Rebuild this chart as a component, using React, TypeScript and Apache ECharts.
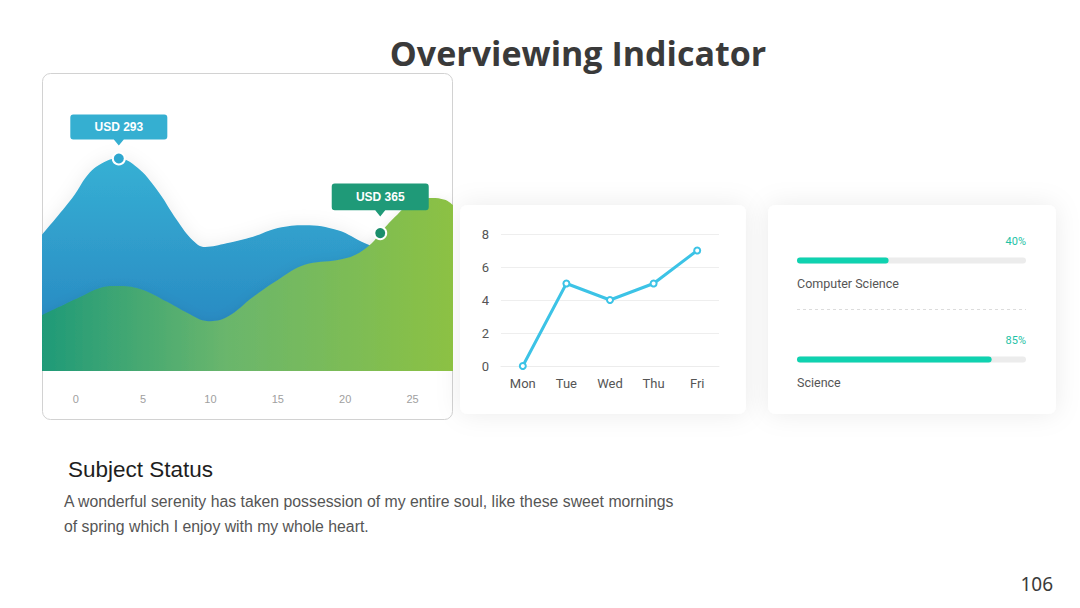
import React, { useEffect, useRef } from "react";
import * as echarts from "echarts";

// Wave chart (left card): x positions and values for the two smooth areas
const waveTicks = [0, 5, 10, 15, 20, 25];
const blueWave: [number, number][] = [
  [-2.5, 188], [-0.2, 240], [1.06, 274], [2.32, 290], [3.2, 293],
  [4.55, 281], [6.03, 250], [7.52, 208], [8.7, 180], [9.6, 171], [11.2, 176],
  [13.16, 185], [15, 197], [17, 201], [19.46, 194], [21.47, 176], [23.7, 160], [28, 142],
];
const greenWave: [number, number][] = [
  [-2.5, 148], [0.32, 196], [1.8, 220], [3.06, 225], [4.77, 217],
  [6.78, 183], [8.26, 154], [9.82, 132], [11.23, 143], [13.16, 196], [15, 241],
  [17, 281], [19.46, 294], [20.73, 307], [21.99, 339], [22.6, 365], [23.7, 408],
  [24.96, 447], [26.44, 458], [27.4, 453], [28, 439],
];
const blueCallout: [number, number] = [3.2, 293];
const greenCallout: [number, number] = [22.6, 365];

// Weekly line chart
const days = ["Mon", "Tue", "Wed", "Thu", "Fri"];
const dayValues = [0, 5, 4, 5, 7];

// Progress bars
const subjects = ["Computer Science", "Science"];
const scores = [40, 85];

const title = "Overviewing Indicator";
const heading = "Subject Status";
const bodyLines = [
  "A wonderful serenity has taken possession of my entire soul, like these sweet mornings",
  "of spring which I enjoy with my whole heart.",
];
const pageNumber = "106";

const calloutPath =
  "path://M3,0 H94 Q97,0 97,3 V22 Q97,25 94,25 H53.5 L48.5,31 L43.5,25 H3 Q0,25 0,22 V3 Q0,0 3,0 Z";

export default function App() {
  const ref = useRef<HTMLDivElement>(null);

  useEffect(() => {
    if (!ref.current) return;
    const chart = echarts.init(ref.current, undefined, { renderer: "svg" });

    const sans = "'Liberation Sans', Arial, sans-serif";

    const valueLabel = (offsetY: number) => ({
      show: true,
      position: "inside",
      offset: [0, offsetY],
      formatter: (p: any) => `USD ${p.value[1]}`,
      color: "#fff",
      fontWeight: "bold",
      fontSize: 12,
      fontFamily: sans,
    });

    const option: any = {
      animation: false,
      backgroundColor: "#ffffff",
      textStyle: { fontFamily: "Roboto, 'Noto Sans', sans-serif" },
      grid: [
        { left: 42, top: 99, width: 411, height: 272 },
        { left: 501, top: 234, width: 218, height: 132 },
        { left: 797, top: 211, width: 229, height: 198 },
      ],
      xAxis: [
        {
          gridIndex: 0,
          type: "value",
          min: -2.5,
          max: 28,
          splitLine: { show: false },
          axisLine: { show: false },
          axisTick: { show: false },
          axisLabel: {
            customValues: waveTicks,
            color: "#a0a0a0",
            fontSize: 11,
            fontFamily: sans,
            margin: 22,
          },
        },
        {
          gridIndex: 1,
          type: "category",
          data: days,
          boundaryGap: true,
          axisLine: { lineStyle: { color: "#ececec" } },
          axisTick: { show: false },
          axisLabel: { color: "#555", fontSize: 13, margin: 11 },
        },
        { gridIndex: 2, type: "value", min: 0, max: 100, show: false },
      ],
      yAxis: [
        { gridIndex: 0, type: "value", min: 0, max: 375, show: false },
        { gridIndex: 0, type: "value", min: 0, max: 720, show: false },
        {
          gridIndex: 1,
          type: "value",
          min: 0,
          max: 8,
          interval: 2,
          axisLine: { show: false },
          axisTick: { show: false },
          splitLine: { lineStyle: { color: "#eeeeee" } },
          axisLabel: { color: "#555", fontSize: 13, margin: 12 },
        },
        { gridIndex: 2, type: "category", data: subjects, inverse: true, show: false },
      ],
      series: [
        {
          type: "line",
          xAxisIndex: 0,
          yAxisIndex: 0,
          data: blueWave,
          smooth: 0.4,
          symbol: "none",
          lineStyle: { width: 0 },
          areaStyle: {
            opacity: 1,
            color: new echarts.graphic.LinearGradient(0, 0, 0, 1, [
              { offset: 0, color: "#36b0d4" },
              { offset: 1, color: "#2680be" },
            ]),
            shadowBlur: 18,
            shadowColor: "rgba(0,0,0,0.07)",
          },
          z: 2,
        },
        {
          type: "line",
          xAxisIndex: 0,
          yAxisIndex: 1,
          data: greenWave,
          smooth: 0.4,
          symbol: "none",
          lineStyle: { width: 0 },
          areaStyle: {
            opacity: 1,
            color: new echarts.graphic.LinearGradient(0, 0, 1, 0, [
              { offset: 0, color: "#1f9a78" },
              { offset: 0.45, color: "#6ab66c" },
              { offset: 1, color: "#8cc143" },
            ]),
            shadowBlur: 14,
            shadowColor: "rgba(0,0,0,0.12)",
            shadowOffsetY: 5,
          },
          z: 3,
        },
        // callout boxes
        {
          type: "scatter",
          xAxisIndex: 0,
          yAxisIndex: 0,
          data: [blueCallout],
          symbol: calloutPath,
          symbolSize: [97, 31],
          symbolOffset: [0, -28.5],
          itemStyle: { color: "#35afd1", opacity: 1 },
          silent: true,
          z: 4,
        },
        {
          type: "scatter",
          xAxisIndex: 0,
          yAxisIndex: 1,
          data: [greenCallout],
          symbol: calloutPath,
          symbolSize: [97, 33],
          symbolOffset: [0, -33],
          itemStyle: { color: "#1f9a78", opacity: 1 },
          silent: true,
          z: 4,
        },
        // dots with value labels
        {
          type: "scatter",
          xAxisIndex: 0,
          yAxisIndex: 0,
          data: [blueCallout],
          symbol: "circle",
          symbolSize: 12,
          itemStyle: { color: "#2ea7cf", borderColor: "#fff", borderWidth: 2, opacity: 1 },
          label: valueLabel(-31),
          z: 5,
        },
        {
          type: "scatter",
          xAxisIndex: 0,
          yAxisIndex: 1,
          data: [greenCallout],
          symbol: "circle",
          symbolSize: 12,
          itemStyle: { color: "#1b8e6c", borderColor: "#fff", borderWidth: 2, opacity: 1 },
          label: valueLabel(-36),
          z: 5,
        },
        // weekly line
        {
          type: "line",
          xAxisIndex: 1,
          yAxisIndex: 2,
          data: dayValues,
          symbol: "emptyCircle",
          symbolSize: 6,
          lineStyle: { color: "#3cc3e6", width: 3 },
          itemStyle: { color: "#3cc3e6", borderWidth: 2 },
        },
        // progress tracks (with percentage labels)
        {
          type: "bar",
          xAxisIndex: 2,
          yAxisIndex: 3,
          data: subjects.map(() => 100),
          barWidth: 6,
          itemStyle: { color: "#ececec", borderRadius: 3 },
          label: {
            show: true,
            position: [229, -16],
            align: "right",
            verticalAlign: "middle",
            formatter: (p: any) => `${scores[p.dataIndex]}%`,
            color: "#1ec2a6",
            fontSize: 11,
          },
          silent: true,
        },
        // progress fill (with subject labels)
        {
          type: "bar",
          xAxisIndex: 2,
          yAxisIndex: 3,
          data: scores,
          barWidth: 6,
          barGap: "-100%",
          itemStyle: { color: "#0fd2b0", borderRadius: 3 },
          label: {
            show: true,
            position: [0, 26],
            align: "left",
            verticalAlign: "middle",
            formatter: (p: any) => p.name,
            color: "#555",
            fontSize: 12.5,
          },
        },
      ],
      graphic: [
        {
          type: "rect",
          shape: { x: 42.5, y: 73.5, width: 410, height: 346, r: 8 },
          style: { fill: "#fff", stroke: "#d2d2d2", lineWidth: 1 },
          z: -10,
        },
        {
          type: "rect",
          shape: { x: 460, y: 205, width: 286, height: 209, r: 8 },
          style: { fill: "#fff", shadowBlur: 26, shadowColor: "rgba(0,0,0,0.08)" },
          z: -10,
        },
        {
          type: "rect",
          shape: { x: 768, y: 205, width: 288, height: 209, r: 8 },
          style: { fill: "#fff", shadowBlur: 26, shadowColor: "rgba(0,0,0,0.08)" },
          z: -10,
        },
        {
          type: "line",
          shape: { x1: 797, y1: 309.5, x2: 1026, y2: 309.5 },
          style: { stroke: "#dcdcdc", lineWidth: 1, lineDash: [3, 3] },
          z: -5,
        },
        {
          type: "text",
          style: {
            text: title,
            x: 578,
            y: 53,
            align: "center",
            verticalAlign: "middle",
            textAlign: "center",
            textVerticalAlign: "middle",
            fontSize: 34,
            fontWeight: "bold",
            fontFamily: "'Open Sans', sans-serif",
            fill: "#3a3a3a",
          },
        },
        {
          type: "text",
          style: {
            text: heading,
            x: 68,
            y: 469,
            verticalAlign: "middle",
            textVerticalAlign: "middle",
            fontSize: 22.5,
            fontFamily: sans,
            fill: "#1e1e1e",
          },
        },
        ...bodyLines.map((line, i) => ({
          type: "text",
          style: {
            text: line,
            x: 64,
            y: 501 + i * 25,
            verticalAlign: "middle",
            textVerticalAlign: "middle",
            fontSize: 15.8,
            fontFamily: sans,
            fill: "#555",
          },
        })),
        {
          type: "text",
          style: {
            text: pageNumber,
            x: 1053,
            y: 584,
            align: "right",
            verticalAlign: "middle",
            textAlign: "right",
            textVerticalAlign: "middle",
            fontSize: 19,
            fontFamily: "'Noto Sans', sans-serif",
            fill: "#3a3a3a",
          },
        },
      ],
    };

    chart.setOption(option);
    return () => chart.dispose();
  }, []);

  return (
    <div
      ref={ref}
      style={{ position: "fixed", left: 0, top: 0, width: 1080, height: 608 }}
    />
  );
}
